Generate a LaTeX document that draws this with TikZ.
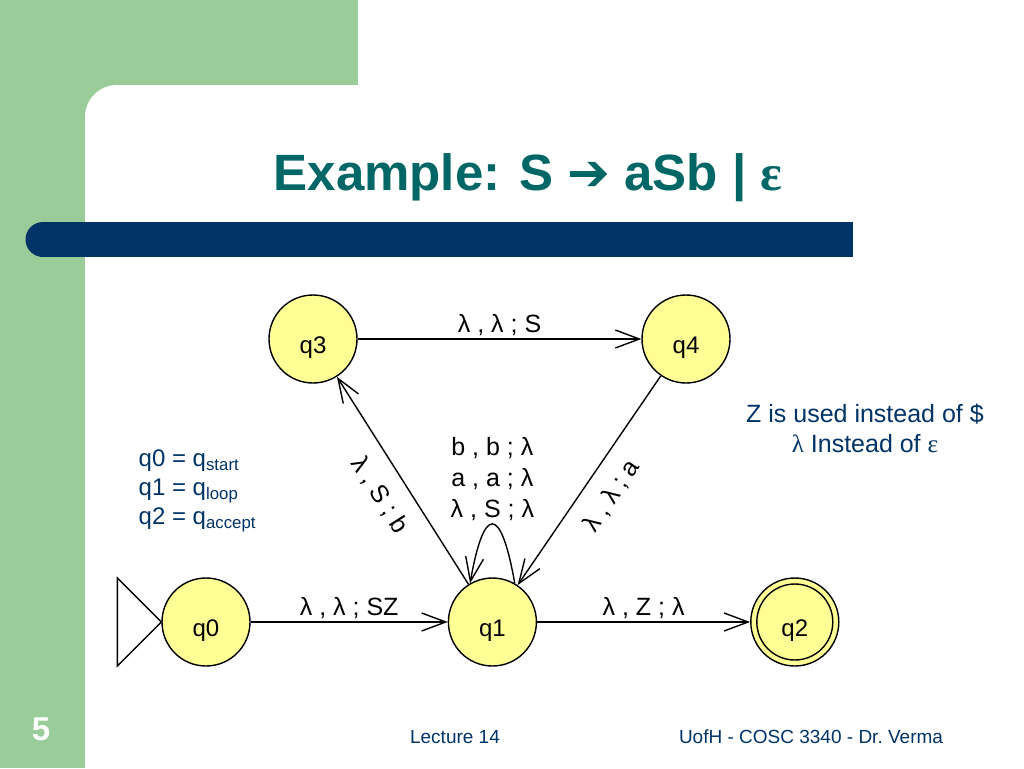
\documentclass[tikz,border=0pt]{standalone}
\usepackage{fontspec}
\setmainfont{Liberation Sans}
\newfontfamily\dejavu{DejaVu Sans}
\newfontfamily\sgreek{Liberation Serif}
\usepackage{tikz}
\usetikzlibrary{calc,positioning,shapes}
\usetikzlibrary{arrows.meta}
\tikzset{>={Straight Barb[length=24pt,width=18pt]}}
\definecolor{slidegreen}{RGB}{153,204,153}
\definecolor{barblue}{RGB}{0,51,102}
\definecolor{titleteal}{RGB}{0,102,102}
\definecolor{stateyellow}{RGB}{255,255,150}

\begin{document}
\begin{tikzpicture}[x=1pt,y=-1pt,line width=1.4pt]
      %%%%%%%%%%%%%%%%%%%%%%%%%%%%%%%%%%%%%%%%%%%%%%%%%% 
      %% slide background
      %%%%%%%%%%%%%%%%%%%%%%%%%%%%%%%%%%%%%%%%%%%%%%%%%% 
      \tikzstyle{snode} = [circle, draw, fill=stateyellow, minimum size=88pt, inner sep=0pt, text height=28pt, text depth=0pt, font=\fontsize{24}{28}\selectfont]
      \tikzstyle{tlabel} = [font=\fontsize{25}{31}\selectfont, inner sep=3pt]
      \tikzstyle{tnote} = [text=barblue, inner sep=0pt]
      \useasboundingbox (0,0) rectangle (1024,768);
      \begin{scope}
        \clip (0,0) rectangle (1024,768);
        \fill[slidegreen] (0,0) rectangle (358,130);
        \fill[slidegreen] (0,0) rectangle (85,768);
        \fill[white, rounded corners=32pt] (85,85) rectangle (1100,900);
      \end{scope}
      \fill[barblue] (43,222) rectangle (853,257);
      \fill[barblue] (43,239.5) circle (17.5pt);
      \node[text=titleteal, anchor=base, font=\fontsize{51}{60}\selectfont\bfseries] (title) at (528,190) {Example: S {\dejavu ➔} aSb | {\sgreek ε}};
      \node[text=white, font=\fontsize{33}{36}\selectfont\bfseries] (pnum) at (41,729) {5};
      \node[tnote, font=\fontsize{19}{22}\selectfont] (lect) at (455,737) {Lecture 14};
      \node[tnote, font=\fontsize{19}{22}\selectfont] (auth) at (811,737) {UofH - COSC 3340 - Dr.\ Verma};
      %%%%%%%%%%%%%%%%%%%%%%%%%%%%%%%%%%%%%%%%%%%%%%%%%% 
      %% PDA for S -> aSb | eps
      %%%%%%%%%%%%%%%%%%%%%%%%%%%%%%%%%%%%%%%%%%%%%%%%%% 
      \node[snode] (q0) at (206,622) {q0};
      \node[snode, right=197pt of q0] (q1) {q1};
      \node[snode, right=213pt of q1] (q2) {q2};
      \draw (q2.center) circle (38pt);
      \node[snode] (q3) at (313,339) {q3};
      \node[snode] (q4) at (686,339) {q4};
      \draw (q0.west) -- ++(-44,-44) -- ++(0,88) -- cycle;
      \draw[->] (q0) -- node[tlabel, above] {λ , λ ; SZ} (q1);
      \draw[->] (q1) -- node[tlabel, above] {λ , Z ; λ} (q2);
      \draw[->] (q3) -- node[tlabel, above] {λ , λ ; S} (q4);
      \draw[->] (q1) -- node[tlabel, sloped, below=13pt] {λ , S ; b} (q3);
      \draw[->] (q4) -- node[tlabel, sloped, below=13pt] {λ , λ ; a} (q1);
      \draw[->] (q1.60) to[out=100, in=80, distance=80pt] node[tlabel, above, align=center] {b , b ; λ\\ a , a ; λ\\ λ , S ; λ} (q1.120);
      %% notes
      \node[tnote, anchor=west, align=left, font=\fontsize{24}{29}\selectfont] (defs) at (138,491) {q0 = q\textsubscript{start}\\ q1 = q\textsubscript{loop}\\ q2 = q\textsubscript{accept}};
      \node[tnote, align=center, font=\fontsize{25}{30}\selectfont] (note) at (865,428) {Z is used instead of \$\\ {\sgreek λ} Instead of {\sgreek ε}};
    \end{tikzpicture}
\end{document}
